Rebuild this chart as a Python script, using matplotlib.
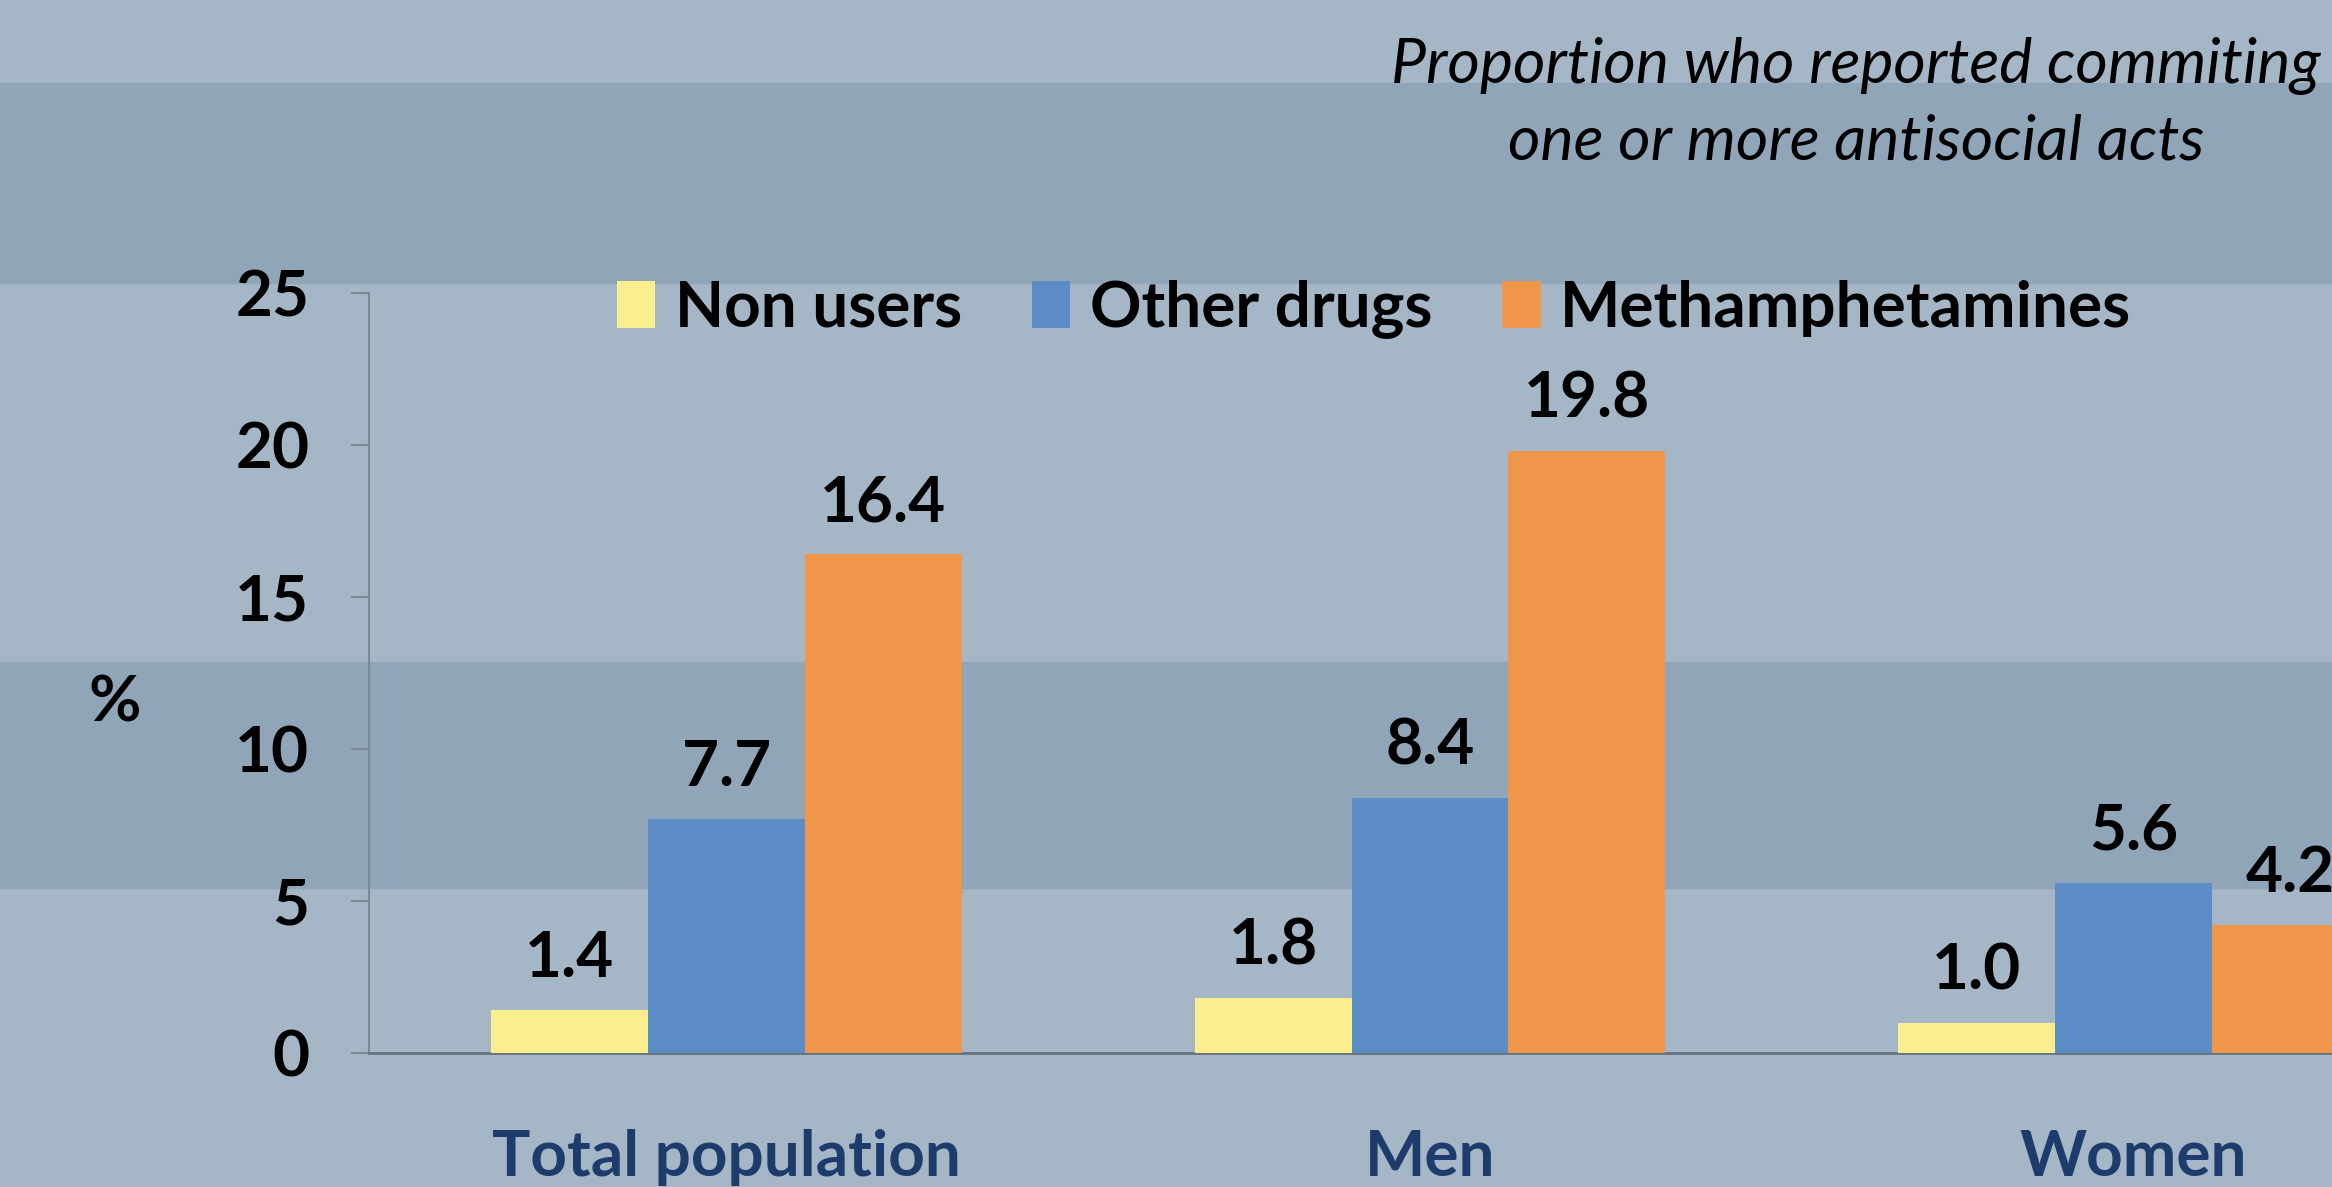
import numpy as np
from matplotlib import pyplot as plt
from matplotlib.patches import Rectangle, Patch

# -------------------------------------------------------------------
categories = ['Total population', 'Men', 'Women']
series_names = ['Non users', 'Other drugs', 'Methamphetamines']
non_users = [1.4, 1.8, 1.0]
other_drugs = [7.7, 8.4, 5.6]
meth = [16.4, 19.8, 4.2]
y_ticks = [0, 5, 10, 15, 20, 25]
title = 'Proportion who reported commiting\none or more antisocial acts'

colors = ['#fbee8f', '#5b8cc6', '#f0964a']
light_bg = '#a5b7c6'
dark_bg = '#90a6b8'

# -------------------------------------------------------------------
plt.rcParams['font.family'] = ['Lato', 'DejaVu Sans']

W, H = 2332, 1187
fig = plt.figure(figsize=(W / 100, H / 100), dpi=100)
fig.patch.set_facecolor(light_bg)

# background bands (pixel rows of the picture)
for y0, y1 in [(83, 283), (662, 888)]:
    fig.add_artist(Rectangle((0, 1 - y1 / H), 1, (y1 - y0) / H,
                             transform=fig.transFigure, color=dark_bg, zorder=-10))

ax = fig.add_axes([369 / W, 1 - 1053 / H, 2122 / W, (1053 - 293) / H])
ax.set_facecolor('none')

x = np.arange(len(categories))
bw = 0.223
for k, vals in enumerate([non_users, other_drugs, meth]):
    bars = ax.bar(x + (k - 1) * bw, vals, width=bw, color=colors[k], zorder=3)
    for b, v in zip(bars, vals):
        ax.annotate(f'{v:.1f}', (b.get_x() + b.get_width() / 2, v),
                    xytext=(0, 24), textcoords='offset points',
                    ha='center', va='baseline', fontsize=46, fontweight='bold',
                    color='black', annotation_clip=False)

ax.set_xlim(-0.508, 2.508)
ax.set_ylim(0, 25)
ax.set_yticks(y_ticks)
ax.set_yticklabels([str(t) for t in y_ticks], fontsize=46, fontweight='bold')
ax.set_xticks(x)
ax.set_xticklabels(categories, fontsize=46, fontweight='bold', color='#1d3c6b')
ax.tick_params(axis='x', length=0, pad=55)
ax.tick_params(axis='y', length=13, width=1.5, color='#7c8893', pad=30)

for s in ['top', 'right']:
    ax.spines[s].set_visible(False)
ax.spines['left'].set_color('#7c8893')
ax.spines['left'].set_linewidth(1.5)
ax.spines['bottom'].set_color('#66727d')
ax.spines['bottom'].set_linewidth(2)

fig.text(115 / W, 1 - 703 / H, '%', fontsize=46, fontweight='bold',
         ha='center', va='center')

fig.text(1856 / W, 1 - 104 / H, title, fontsize=45, style='italic',
         ha='center', va='center', linespacing=1.4)

handles = [Patch(facecolor=c) for c in colors]
fig.legend(handles, series_names, loc='center', bbox_to_anchor=(1374 / W, 1 - 309 / H),
           ncol=3, frameon=False, prop={'size': 46, 'weight': 'bold'},
           handlelength=0.6, handleheight=0.75, handletextpad=0.3, columnspacing=1.1)

plt.savefig('out.png', dpi=100, facecolor=fig.get_facecolor())
